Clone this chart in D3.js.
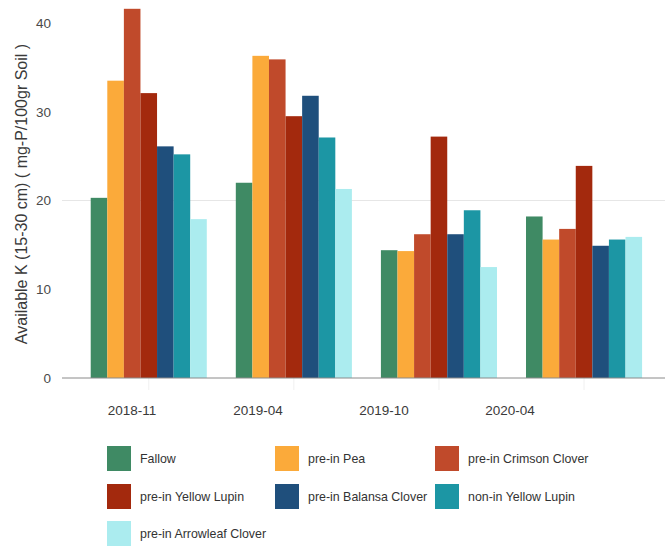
<!DOCTYPE html>
<html>
<head>
<meta charset="utf-8">
<script src="https://cdn.jsdelivr.net/npm/d3@7"></script>
<style>
  html, body { margin: 0; padding: 0; background: #fff; }
  svg { display: block; font-family: Arial, "Liberation Sans", sans-serif; }
</style>
</head>
<body>
<svg id="chart" width="665" height="546"></svg>
<script>
// Sampling dates (x groups)
const dates = ["2018-11", "2019-04", "2019-10", "2020-04"];

// Treatments (bar series within each date)
const treatments = [
  "Fallow", "pre-in Pea", "pre-in Crimson Clover", "pre-in Yellow Lupin",
  "pre-in Balansa Clover", "non-in Yellow Lupin", "pre-in Arrowleaf Clover"
];
const colors = ["#3f8a64", "#fbaa3a", "#c04a2b", "#a3290d", "#1f4f7c", "#1c96a4", "#abecef"];

// Available K per treatment, one value per date
const fallow        = [20.3, 22.0, 14.4, 18.2];
const pea           = [33.5, 36.3, 14.3, 15.6];
const crimson       = [41.6, 35.9, 16.2, 16.8];
const yellowLupin   = [32.1, 29.5, 27.2, 23.9];
const balansa       = [26.1, 31.8, 16.2, 14.9];
const nonYellowLupin= [25.2, 27.1, 18.9, 15.6];
const arrowleaf     = [17.9, 21.3, 12.5, 15.9];
const seriesValues = [fallow, pea, crimson, yellowLupin, balansa, nonYellowLupin, arrowleaf];

const yTicks = [0, 10, 20, 30, 40];
const yTitle = "Available K (15-30 cm) ( mg-P/100gr Soil )";

const svg = d3.select("#chart");

const y = d3.scaleLinear().domain([0, 40]).range([378, 23]);

// bar groups
const xGroup = d3.scaleBand().domain(dates).range([76.2, 656.6])
  .paddingInner(0.2).paddingOuter(0.1);
const xBar = d3.scaleBand().domain(treatments).range([0, xGroup.bandwidth()]);
// date labels sit on their own spacing
const xLabel = d3.scalePoint().domain(dates).range([132, 510]);

// faint reference line
svg.append("line")
  .attr("x1", 62).attr("x2", 665)
  .attr("y1", y(20)).attr("y2", y(20))
  .attr("stroke", "#e6e6e6").attr("stroke-width", 1);

// bars
const rows = [];
dates.forEach((d, i) => {
  treatments.forEach((t, j) => rows.push({ date: d, treatment: t, value: seriesValues[j][i], color: colors[j] }));
});
svg.append("g").selectAll("rect").data(rows).join("rect")
  .attr("x", d => xGroup(d.date) + xBar(d.treatment))
  .attr("width", xBar.bandwidth())
  .attr("y", d => y(d.value))
  .attr("height", d => y(0) - y(d.value))
  .attr("fill", d => d.color);

// x axis
const xAxis = svg.append("g").attr("transform", `translate(0,${y(0)})`)
  .call(d3.axisBottom(xGroup).tickSize(12).tickSizeOuter(0));
xAxis.select(".domain").remove();
xAxis.selectAll(".tick line").attr("stroke", "#f0f0f0");
xAxis.selectAll(".tick text")
  .attr("x", d => xLabel(d) - (xGroup(d) + xGroup.bandwidth() / 2))
  .attr("y", 27)
  .attr("font-size", 13.5)
  .attr("fill", "#3a3a3a");
svg.append("line")
  .attr("x1", 62).attr("x2", 665)
  .attr("y1", y(0)).attr("y2", y(0))
  .attr("stroke", "#8a8a8a").attr("stroke-width", 1);

// y axis
const yAxis = svg.append("g").attr("transform", "translate(62,0)")
  .call(d3.axisLeft(y).tickValues(yTicks).tickSize(0).tickPadding(11));
yAxis.select(".domain").remove();
yAxis.selectAll(".tick text").attr("font-size", 13.5).attr("fill", "#4a4a4a");

svg.append("text")
  .attr("transform", `translate(27,${(y(0) + 8) / 2 + 1}) rotate(-90)`)
  .attr("text-anchor", "middle")
  .attr("font-size", 16)
  .attr("fill", "#3a3a3a")
  .text(yTitle);

// legend
const legendCols = [107, 275, 435];
const legendRows = [446, 484, 521];
const legend = svg.append("g").selectAll("g").data(treatments).join("g")
  .attr("transform", (d, i) => `translate(${legendCols[i % 3]},${legendRows[Math.floor(i / 3)]})`);
legend.append("rect").attr("width", 24).attr("height", 25)
  .attr("fill", (d, i) => colors[i]);
legend.append("text").attr("x", 33).attr("y", 13).attr("dy", "0.35em")
  .attr("font-size", 12.4).attr("fill", "#333")
  .text(d => d);
</script>
</body>
</html>
